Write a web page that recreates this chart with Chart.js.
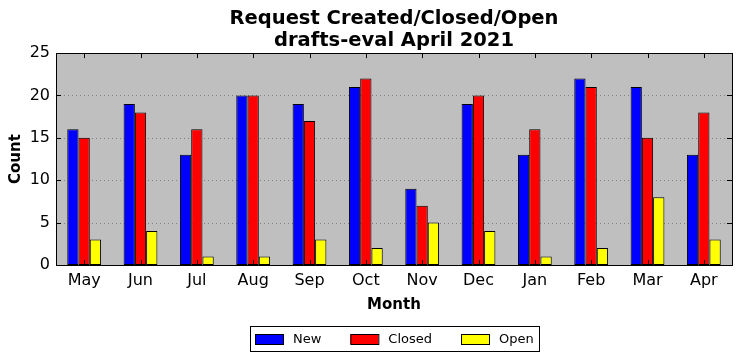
<!DOCTYPE html>
<html>
<head>
<meta charset="utf-8">
<script src="https://cdn.jsdelivr.net/npm/chart.js@4.4.0/dist/chart.umd.min.js"></script>
<style>
  html, body { margin: 0; padding: 0; background: #fff; }
  canvas { display: block; }
</style>
</head>
<body>
<canvas id="chart" width="742" height="361"></canvas>
<script>
const months = ['May', 'Jun', 'Jul', 'Aug', 'Sep', 'Oct', 'Nov', 'Dec', 'Jan', 'Feb', 'Mar', 'Apr'];
const newCounts = [16, 19, 13, 20, 19, 21, 9, 19, 13, 22, 21, 13];
const closedCounts = [15, 18, 16, 20, 17, 22, 7, 20, 16, 21, 15, 18];
const openCounts = [3, 4, 1, 1, 3, 2, 5, 4, 1, 2, 8, 3];
const yTicks = [0, 5, 10, 15, 20, 25];

const FONT = 'DejaVu Sans';
Chart.defaults.font.family = FONT;
Chart.defaults.color = '#000';

// grey plot background, frame, inward ticks
const frame = {
  id: 'frame',
  beforeDatasetsDraw(chart) {
    const a = chart.chartArea;
    const ctx = chart.ctx;
    ctx.save();
    ctx.fillStyle = '#bfbfbf';
    ctx.fillRect(a.left, a.top, a.right - a.left, a.bottom - a.top);
    // dotted grid
    ctx.strokeStyle = '#7f7f7f';
    ctx.lineWidth = 1;
    ctx.setLineDash([1, 3]);
    chart.scales.y.ticks.forEach((t, i) => {
      const y = Math.round(chart.scales.y.getPixelForTick(i)) + 0.5;
      if (y <= a.top + 1 || y >= a.bottom - 1) return;
      ctx.beginPath();
      ctx.moveTo(a.left, y);
      ctx.lineTo(a.right, y);
      ctx.stroke();
    });
    ctx.restore();
  },
  afterDatasetsDraw(chart) {
    const a = chart.chartArea;
    const ctx = chart.ctx;
    ctx.save();
    ctx.strokeStyle = '#000';
    ctx.lineWidth = 1;
    ctx.beginPath();
    chart.scales.x.ticks.forEach((t, i) => {
      const x = Math.round(chart.scales.x.getPixelForTick(i)) + 0.5;
      ctx.moveTo(x, a.bottom); ctx.lineTo(x, a.bottom - 5);
      ctx.moveTo(x, a.top); ctx.lineTo(x, a.top + 5);
    });
    chart.scales.y.ticks.forEach((t, i) => {
      const y = Math.round(chart.scales.y.getPixelForTick(i)) + 0.5;
      ctx.moveTo(a.left, y); ctx.lineTo(a.left + 5, y);
      ctx.moveTo(a.right, y); ctx.lineTo(a.right - 5, y);
    });
    ctx.stroke();
    ctx.strokeRect(Math.round(a.left) + 0.5, Math.round(a.top) + 0.5,
      Math.round(a.right - a.left), Math.round(a.bottom - a.top));
    ctx.restore();
  },
  afterDraw(chart) {
    // boxed legend below the axis title
    const a = chart.chartArea;
    const ctx = chart.ctx;
    const sets = chart.data.datasets;
    ctx.save();
    ctx.font = '13px ' + FONT;
    const boxW = 28, boxH = 10, gap = 10, spacing = 29, pad = 5;
    const widths = sets.map(d => boxW + gap + ctx.measureText(d.label).width);
    const total = widths.reduce((s, w) => s + w, 0) + spacing * (sets.length - 1) + pad * 2;
    const left = Math.round((a.left + a.right) / 2 - total / 2);
    const top = 326, h = 25;
    ctx.fillStyle = '#fff';
    ctx.fillRect(left, top, total, h);
    ctx.strokeStyle = '#000';
    ctx.lineWidth = 1;
    ctx.strokeRect(left + 0.5, top + 0.5, Math.round(total), h);
    let x = left + pad;
    const cy = top + h / 2;
    sets.forEach((d, i) => {
      ctx.fillStyle = d.backgroundColor;
      ctx.fillRect(x, Math.round(cy - boxH / 2), boxW, boxH);
      ctx.strokeRect(x + 0.5, Math.round(cy - boxH / 2) + 0.5, boxW, boxH);
      ctx.fillStyle = '#000';
      ctx.textBaseline = 'middle';
      ctx.fillText(d.label, x + boxW + gap, cy + 1);
      x += widths[i] + spacing;
    });
    ctx.restore();
  }
};

new Chart(document.getElementById('chart'), {
  type: 'bar',
  data: {
    labels: months,
    datasets: [
      { label: 'New', data: newCounts, backgroundColor: '#0000ff' },
      { label: 'Closed', data: closedCounts, backgroundColor: '#ff0000' },
      { label: 'Open', data: openCounts, backgroundColor: '#ffff00' },
    ],
  },
  options: {
    responsive: false,
    animation: false,
    devicePixelRatio: 1,
    layout: { padding: { top: 0, right: 10, bottom: 46, left: 0 } },
    datasets: {
      bar: {
        borderColor: '#000',
        borderWidth: 1,
        borderSkipped: false,
        categoryPercentage: 0.6,
        barPercentage: 1.0,
      },
    },
    plugins: {
      legend: { display: false },
      tooltip: { enabled: false },
      title: {
        display: true,
        fullSize: false,
        text: ['Request Created/Closed/Open', 'drafts-eval April 2021'],
        color: '#000',
        font: { size: 19.5, weight: 'bold', lineHeight: 1.13 },
        padding: { top: 8, bottom: 1 },
      },
    },
    scales: {
      x: {
        grid: { display: false, drawTicks: false },
        border: { display: false },
        ticks: { font: { size: 16 }, padding: 6 },
        title: {
          display: true,
          text: 'Month',
          font: { size: 15, weight: 'bold' },
          padding: { top: 0, bottom: 1 },
        },
        afterFit(s) { s.height = 50; },
      },
      y: {
        min: 0,
        max: 25,
        grid: { display: false, drawTicks: false },
        border: { display: false },
        ticks: {
          stepSize: 5,
          font: { size: 16 },
          padding: 6,
          callback: (v) => (yTicks.includes(v) ? String(v) : ''),
        },
        title: {
          display: true,
          text: 'Count',
          font: { size: 15, weight: 'bold' },
          padding: { top: 7, bottom: 0 },
        },
        afterFit(s) { s.width = 56; },
      },
    },
  },
  plugins: [frame],
});
</script>
</body>
</html>
